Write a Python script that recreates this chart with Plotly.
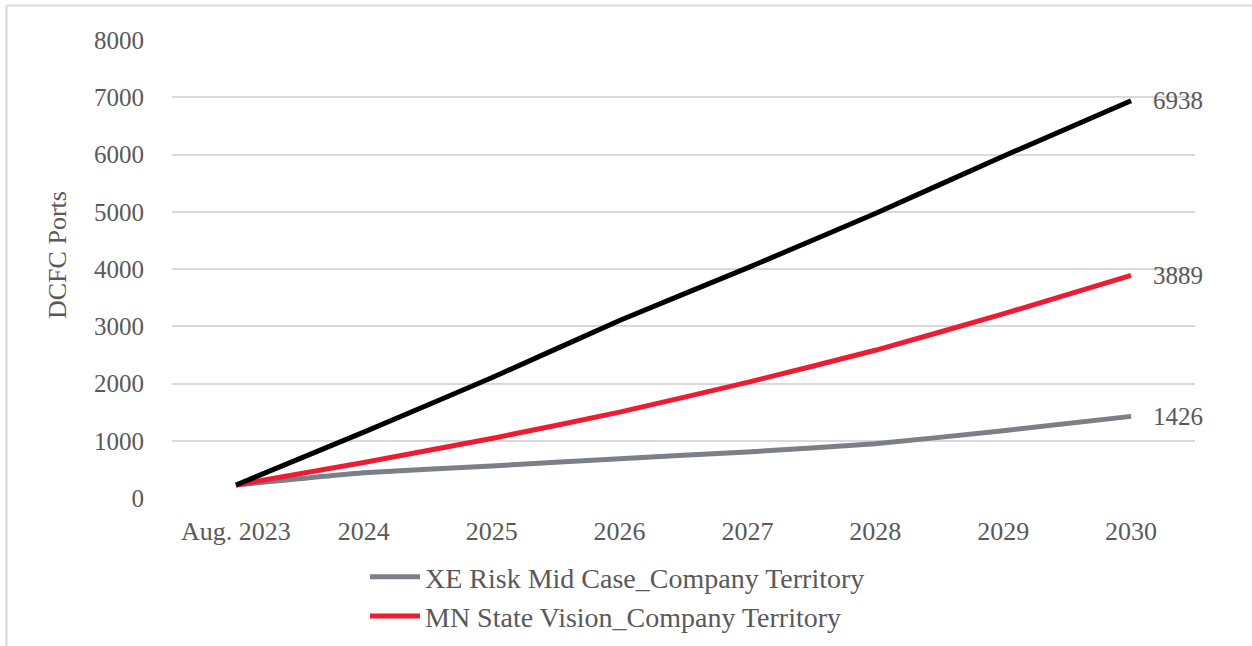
import plotly.graph_objects as go

# Forecast years (categories on the x axis)
years = ["Aug. 2023", "2024", "2025", "2026", "2027", "2028", "2029", "2030"]

# DCFC port projections per scenario
company_forecast = [227, 1150, 2100, 3100, 4020, 4970, 5970, 6938]
mn_state_vision = [227, 620, 1040, 1500, 2020, 2580, 3215, 3889]
xe_risk_mid_case = [227, 440, 560, 685, 805, 948, 1175, 1426]

y_ticks = [0, 1000, 2000, 3000, 4000, 5000, 6000, 7000, 8000]

FONT = "Liberation Serif, serif"
TEXT_GREY = "#595959"
GRID = "#d9d9d9"

series = [
    ("XE Risk Mid Case_Company Territory", xe_risk_mid_case, "#7b7f86", True),
    ("MN State Vision_Company Territory", mn_state_vision, "#ee1c33", True),
    ("Company Forecast", company_forecast, "#000000", False),
]

fig = go.Figure()
for name, vals, color, in_legend in series:
    fig.add_trace(go.Scatter(
        x=years, y=vals, name=name,
        mode="lines",
        line=dict(color=color, width=5, shape="spline", smoothing=0.4),
        showlegend=in_legend,
        cliponaxis=False,
    ))
    # end-of-line value label (x given as category index of the last year)
    fig.add_annotation(
        x=len(years) - 1, y=vals[-1], text=str(vals[-1]),
        xanchor="left", yanchor="middle", xshift=20, showarrow=False,
        font=dict(family=FONT, size=25, color=TEXT_GREY),
    )

# plot area geometry in pixels
W, H = 1252, 646
L, R, T, B = 172, 57, 40, 148
pw, ph = W - L - R, H - T - B

def px_x(x):
    return (x - L) / pw

def px_y(y):
    return (H - B - y) / ph

# outer chart frame (top and left edges visible)
fig.add_shape(type="line", xref="paper", yref="paper",
              x0=px_x(6.5), x1=px_x(1300), y0=px_y(5.5), y1=px_y(5.5),
              line=dict(color=GRID, width=2))
fig.add_shape(type="line", xref="paper", yref="paper",
              x0=px_x(6.5), x1=px_x(6.5), y0=px_y(5.5), y1=px_y(700),
              line=dict(color=GRID, width=2))

# y axis title
fig.add_annotation(
    xref="paper", yref="paper", x=px_x(57), y=px_y(255),
    text="DCFC Ports", textangle=-90, showarrow=False,
    xanchor="center", yanchor="middle",
    font=dict(family=FONT, size=26, color=TEXT_GREY),
)

fig.update_layout(
    width=W, height=H,
    margin=dict(l=L, r=R, t=T, b=B, autoexpand=False),
    paper_bgcolor="white", plot_bgcolor="white",
    font=dict(family=FONT, color=TEXT_GREY),
    legend=dict(
        x=px_x(365), y=px_y(552), xanchor="left", yanchor="top",
        font=dict(family=FONT, size=28, color=TEXT_GREY),
        bgcolor="rgba(0,0,0,0)", itemwidth=50, tracegroupgap=0,
    ),
    xaxis=dict(
        type="category", range=[-0.5, 7.5],
        showgrid=False, zeroline=False, showline=False,
        ticks="outside", ticklen=10, tickcolor="white",
        tickfont=dict(family=FONT, size=26, color=TEXT_GREY),
    ),
    yaxis=dict(
        range=[0, 8000], tickvals=y_ticks,
        showgrid=True, gridcolor=GRID, gridwidth=2,
        zeroline=False, showline=False,
        ticks="outside", ticklen=22, tickcolor="white",
        tickfont=dict(family=FONT, size=25, color=TEXT_GREY),
    ),
)

fig.write_html("out.html")
